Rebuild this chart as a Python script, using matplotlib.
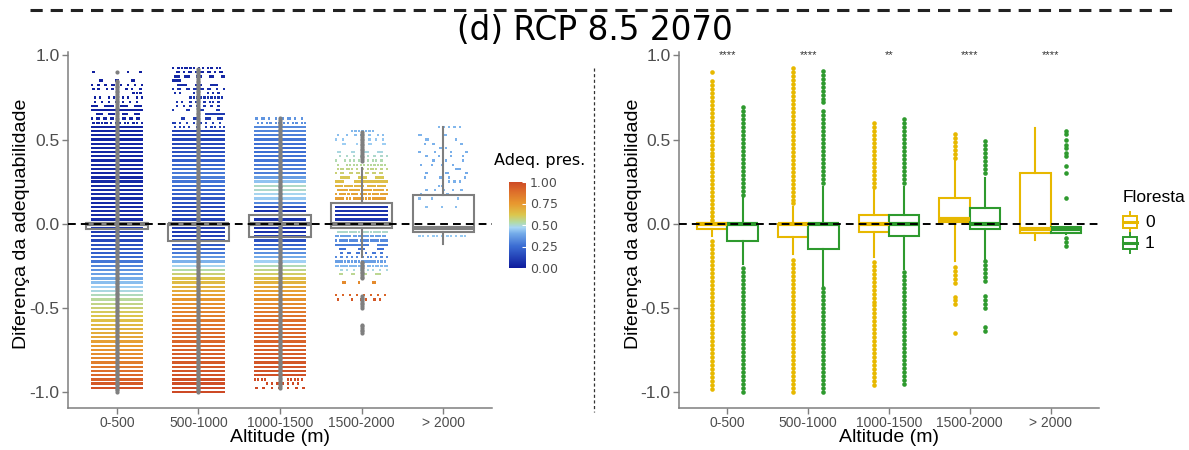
import numpy as np
import matplotlib
matplotlib.use('Agg')
import matplotlib.pyplot as plt
from matplotlib.colors import LinearSegmentedColormap
from matplotlib.lines import Line2D
from matplotlib.patches import Rectangle

W, H = 1189, 450
plt.rcParams['font.family'] = ['Liberation Sans', 'DejaVu Sans']

altitudes = ['0-500', '500-1000', '1000-1500', '1500-2000', '> 2000']
STEP = 0.025   # the suitability values come in rows of this size

# ---- left panel: jittered cloud, (y_lo, y_hi, fill) bands per altitude class
cloud_bands = [
    [(-0.975, 0.575, 1.0), (0.6, 0.7, 0.5), (0.725, 0.85, 0.25), (0.875, 0.9, 0.08)],
    [(-1.0, 0.55, 1.0), (0.575, 0.65, 0.35), (0.675, 0.775, 0.25), (0.8, 0.925, 0.45)],
    [(-0.9, 0.575, 1.0), (-0.975, -0.925, 0.25), (0.6, 0.625, 0.35)],
    [(-0.475, -0.425, 0.15), (-0.35, -0.325, 0.15), (-0.3, -0.275, 0.3), (-0.25, -0.225, 0.7),
     (-0.2, -0.15, 0.35), (-0.125, 0.0, 0.8), (0.025, 0.125, 1.0), (0.15, 0.25, 0.8),
     (0.275, 0.35, 0.45), (0.375, 0.45, 0.3), (0.475, 0.55, 0.2)],
    [(-0.1, -0.1, 0.08), (-0.075, -0.05, 0.4), (0.1, 0.575, 0.1)],
]
# present suitability (colour) read at a few heights of each column
cloud_col_y = [
    [-1.0, -0.76, -0.56, -0.46, -0.34, -0.16, 0.0, 0.9],
    [-1.0, -0.66, -0.5, -0.42, -0.32, -0.26, -0.16, -0.06, 0.1, 0.28, 0.45, 0.93],
    [-0.97, -0.56, -0.46, -0.37, -0.32, -0.24, -0.16, -0.06, 0.08, 0.15, 0.22, 0.3, 0.45, 0.62],
    [-0.6, -0.45, -0.34, -0.3, -0.24, -0.16, -0.08, 0.0, 0.025, 0.1, 0.125, 0.2, 0.3, 0.4, 0.55],
    [-0.1, 0.0, 0.3, 0.57],
]
cloud_col_v = [
    [1.0, 0.77, 0.63, 0.55, 0.42, 0.2, 0.06, 0.02],
    [1.0, 0.9, 0.8, 0.72, 0.62, 0.5, 0.25, 0.1, 0.15, 0.3, 0.15, 0.03],
    [1.0, 0.88, 0.78, 0.7, 0.63, 0.5, 0.3, 0.08, 0.08, 0.45, 0.52, 0.3, 0.25, 0.35],
    [0.95, 0.95, 0.78, 0.55, 0.4, 0.25, 0.35, 0.75, 0.08, 0.08, 0.75, 0.7, 0.58, 0.5, 0.42],
    [0.45, 0.45, 0.4, 0.42],
]
# boxplot of each altitude class (all points)
all_q1 = [-0.03, -0.1, -0.077, -0.025, -0.05]
all_med = [0.0, 0.0, 0.0, 0.0, -0.025]
all_q3 = [0.006, 0.0, 0.053, 0.125, 0.17]
all_wlo = [-0.08, -0.25, -0.27, -0.2, -0.12]
all_whi = [0.05, 0.15, 0.25, 0.33, 0.575]
all_out = [
    [(-1.0, 0.85), (0.9, 0.9)],
    [(-1.0, 0.925)],
    [(-0.975, 0.625)],
    [(0.375, 0.55), (-0.325, -0.225), (-0.5, -0.425), (-0.65, -0.6)],
    [],
]

# ---- right panel: boxplots by Floresta (0 / 1)
f0_q1 = [-0.03, -0.08, -0.05, 0.01, -0.055]
f0_med = [0.0, 0.0, 0.0, 0.025, -0.03]
f0_q3 = [0.005, 0.0, 0.05, 0.15, 0.30]
f0_wlo = [-0.075, -0.18, -0.2, -0.22, -0.095]
f0_whi = [0.05, 0.10, 0.2, 0.37, 0.57]
f0_out = [
    [(0.02, 0.86), (0.9, 0.9), (-0.98, -0.08)],
    [(0.12, 0.93), (-1.0, -0.2)],
    [(0.22, 0.6), (-0.96, -0.22)],
    [(0.39, 0.55), (-0.35, -0.24), (-0.48, -0.42), (-0.65, -0.65)],
    [],
]
f1_q1 = [-0.105, -0.15, -0.075, -0.03, -0.055]
f1_med = [0.0, 0.0, 0.0, 0.0, -0.03]
f1_q3 = [0.0, 0.0, 0.05, 0.095, -0.02]
f1_wlo = [-0.24, -0.37, -0.27, -0.21, -0.06]
f1_whi = [0.15, 0.22, 0.22, 0.27, -0.02]
f1_out = [
    [(0.17, 0.7), (-1.0, -0.25)],
    [(0.24, 0.68), (0.72, 0.93), (-1.0, -0.38)],
    [(0.24, 0.63), (-0.95, -0.28)],
    [(0.3, 0.5), (-0.34, -0.22), (-0.5, -0.42), (-0.64, -0.6)],
    [(0.55, 0.55), (0.53, 0.53), (0.5, 0.5), (0.47, 0.47), (0.45, 0.45), (0.42, 0.42),
     (0.4, 0.4), (0.34, 0.34), (0.3, 0.3), (0.15, 0.15), (-0.13, -0.07)],
]
signif = ['****', '****', '**', '****', '****']

GREY = '#7f7f7f'
TICK_GREY = '#4d4d4d'
YELLOW = '#E7B800'
GREEN = '#2E9A2E'

cmap = LinearSegmentedColormap.from_list('adeq', [
    (0.0, '#0d1a9c'), (0.25, '#3a6bd2'), (0.4, '#74abe9'), (0.47, '#a6d5f5'),
    (0.53, '#b3dba6'), (0.62, '#dcc64c'), (0.75, '#e8982f'), (0.9, '#dc6a2a'),
    (1.0, '#cd4a25')])


def rows(lo, hi, step):
    return np.round(np.arange(lo, hi + 1e-6, step), 4)


def style_axes(ax):
    ax.set_xlim(0.4, 5.6)
    ax.set_ylim(-1.095, 1.02)
    for s in ['top', 'right']:
        ax.spines[s].set_visible(False)
    for s in ['left', 'bottom']:
        ax.spines[s].set_color(GREY)
        ax.spines[s].set_linewidth(1.1)
    ax.set_xticks(range(1, 6))
    ax.set_xticklabels(altitudes, fontsize=10, color=TICK_GREY)
    ax.set_yticks([-1, -0.5, 0, 0.5, 1])
    ax.set_yticklabels(['-1.0', '-0.5', '0.0', '0.5', '1.0'], fontsize=12.5, color=TICK_GREY)
    ax.tick_params(color=GREY, length=4, width=1.0, pad=2)
    ax.patch.set_alpha(0)
    ax.axhline(0, color='black', lw=1.4, dashes=(4, 2.6), zorder=10)


fig = plt.figure(figsize=(W / 100, H / 100), dpi=100)
axL = fig.add_axes([68 / W, 42 / H, 424 / W, 356 / H])
axR = fig.add_axes([679 / W, 42 / H, 420 / W, 356 / H])

# ---- left: cloud
slots = np.linspace(-0.31, 0.31, 30)
kk = np.arange(len(slots))
xs, ys, cs = [], [], []
for i, bands in enumerate(cloud_bands):
    r = 0
    for lo, hi, fill in bands:
        for y in rows(lo, hi, STEP):
            r += 1
            # scattered but fixed choice of jitter slots in sparse rows
            keep = ((kk * 37 + r * 61 + kk * r * 13 + i * 7) % 101) / 101.0 < fill
            xs.extend(i + 1 + slots[keep])
            ys.extend([y] * int(keep.sum()))
            cs.extend([np.interp(y, cloud_col_y[i], cloud_col_v[i])] * int(keep.sum()))
sc = axL.scatter(xs, ys, c=cs, cmap=cmap, vmin=0, vmax=1, s=2.6, marker='s',
                 linewidths=0, zorder=2)

for i, runs in enumerate(all_out):
    for lo, hi in runs:
        yy = rows(lo, hi, 0.01)
        axL.scatter(np.full(len(yy), i + 1), yy, s=9, color=GREY, linewidths=0, zorder=4)

stats = [dict(med=all_med[i], q1=all_q1[i], q3=all_q3[i], whislo=all_wlo[i],
              whishi=all_whi[i], fliers=[]) for i in range(5)]
axL.bxp(stats, positions=range(1, 6), widths=0.75, showfliers=False, showcaps=False,
        patch_artist=True,
        boxprops=dict(facecolor='none', edgecolor=GREY, linewidth=1.5),
        medianprops=dict(color=GREY, linewidth=3.0),
        whiskerprops=dict(color=GREY, linewidth=1.5), zorder=5)
style_axes(axL)

# ---- right: boxplots by Floresta
groups = [
    (f0_q1, f0_med, f0_q3, f0_wlo, f0_whi, f0_out, YELLOW, -0.1875),
    (f1_q1, f1_med, f1_q3, f1_wlo, f1_whi, f1_out, GREEN, 0.1875),
]
for q1, med, q3, wlo, whi, outs, col, off in groups:
    pos = [i + 1 + off for i in range(5)]
    for i, runs in enumerate(outs):
        for lo, hi in runs:
            yy = rows(lo, hi, 0.0237)
            axR.scatter(np.full(len(yy), pos[i]), yy, s=11, color=col, linewidths=0, zorder=2)
    stats = [dict(med=med[i], q1=q1[i], q3=q3[i], whislo=wlo[i], whishi=whi[i], fliers=[])
             for i in range(5)]
    axR.bxp(stats, positions=pos, widths=0.375, showfliers=False, showcaps=False,
            patch_artist=True,
            boxprops=dict(facecolor='white', edgecolor=col, linewidth=1.5),
            medianprops=dict(color=col, linewidth=3.0),
            whiskerprops=dict(color=col, linewidth=1.5), zorder=5)
style_axes(axR)
for i, s in enumerate(signif):
    axR.text(i + 1, 1.0, s, ha='center', va='center', fontsize=8, color='#333333')

# axis titles
for cx in (22, 633):
    fig.text(cx / W, 1 - 224 / H, 'Diferença da adequabilidade', rotation=90,
             ha='center', va='center', fontsize=14)
for cx in (280, 889):
    fig.text(cx / W, 1 - 438 / H, 'Altitude (m)', ha='center', va='center', fontsize=14)

# colour bar legend
cax = fig.add_axes([509 / W, 1 - 268 / H, 17 / W, 86 / H])
cb = fig.colorbar(sc, cax=cax, ticks=[0, 0.25, 0.5, 0.75, 1.0])
cb.outline.set_visible(False)
cb.ax.set_yticklabels(['0.00', '0.25', '0.50', '0.75', '1.00'], fontsize=9,
                      color=TICK_GREY, family='DejaVu Sans')
cb.ax.tick_params(length=3, width=0.8, color='white', direction='in', pad=3)
fig.text(494 / W, 1 - 161 / H, 'Adeq. pres.', ha='left', va='center', fontsize=11.5,
         family='DejaVu Sans')

# Floresta legend
fig.text(1123 / W, 1 - 198 / H, 'Floresta', ha='left', va='center', fontsize=12.5)
for k, (lab, col) in enumerate([('0', YELLOW), ('1', GREEN)]):
    cy = 222 + k * 21
    x0, x1 = 1123, 1137
    fig.add_artist(Rectangle((x0 / W, 1 - (cy + 6) / H), (x1 - x0) / W, 12 / H,
                             transform=fig.transFigure, facecolor='white',
                             edgecolor=col, lw=1.4))
    fig.add_artist(Line2D([x0 / W, x1 / W], [1 - cy / H] * 2, color=col, lw=2.2))
    for ya, yb in ((cy - 10, cy - 6), (cy + 6, cy + 10)):
        fig.add_artist(Line2D([(x0 + x1) / 2 / W] * 2, [1 - ya / H, 1 - yb / H],
                              color=col, lw=1.4))
    fig.text(1145 / W, 1 - cy / H, lab, ha='left', va='center', fontsize=12.5)

# title and separators
fig.text(595 / W, 1 - 30 / H, '(d) RCP 8.5 2070', ha='center', va='center',
         fontsize=23.5, family='DejaVu Sans')
fig.add_artist(Line2D([30 / W, 1172 / W], [1 - 10 / H] * 2, color='#222222', lw=2.2,
                      dashes=(4, 2.6)))
fig.add_artist(Line2D([594 / W] * 2, [1 - 68 / H, 1 - 412 / H], color='#333333', lw=0.9,
                      dashes=(2.5, 2)))

fig.savefig('out.png', dpi=100)
